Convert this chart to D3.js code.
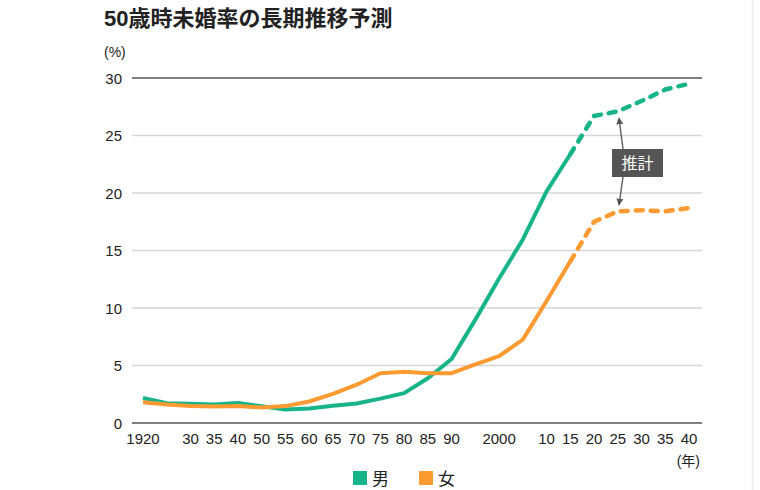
<!DOCTYPE html>
<html><head><meta charset="utf-8">
<script src="https://cdn.jsdelivr.net/npm/d3@7"></script>
<style>
html,body{margin:0;padding:0;background:#fff;}
text{font-family:"Liberation Sans","Noto Sans CJK JP",sans-serif;}
</style></head>
<body><svg id="c" width="760" height="490"></svg>
<script>
const years = [1920,1925,1930,1935,1940,1950,1955,1960,1965,1970,1975,1980,1985,1990,1995,2000,2005,2010,2015,2020,2025,2030,2035,2040];
const tickLabels = ["1920","","30","35","40","50","55","60","65","70","75","80","85","90","","2000","","10","15","20","25","30","35","40"];
const male = [2.17,1.72,1.68,1.60,1.75,1.45,1.18,1.26,1.50,1.70,2.12,2.60,3.89,5.57,8.99,12.57,15.96,20.14,23.37,26.7,27.1,28.0,29.0,29.5];
const female = [1.80,1.61,1.48,1.44,1.47,1.35,1.47,1.87,2.53,3.33,4.32,4.45,4.32,4.33,5.10,5.82,7.25,10.61,14.06,17.5,18.4,18.5,18.4,18.7];
const yTicks = [0,5,10,15,20,25,30];
const projStart = 2015;
const seriesNames = ["男","女"];
const colors = ["#17b48a","#fd9a31"];

const svg = d3.select("#c");
svg.append("line").attr("x1",752.5).attr("x2",752.5).attr("y1",0).attr("y2",490).attr("stroke","#ececec").attr("stroke-width",1.5);

svg.append("text").attr("x",104).attr("y",26).attr("font-size",22).attr("font-weight","bold").attr("fill","#222").text("50歳時未婚率の長期推移予測");

const x = d3.scalePoint().domain(years).range([143,689]);
const y = d3.scaleLinear().domain([0,30]).range([423,78]);
const left = 132, right = 702;

svg.append("text").attr("x",104).attr("y",57).attr("font-size",14).attr("fill","#222").text("(%)");

const g = svg.append("g");
yTicks.forEach(t=>{
  g.append("line").attr("x1",left).attr("x2",right).attr("y1",y(t)).attr("y2",y(t))
   .attr("stroke", (t===0||t===30)?"#555":"#d6d6d6").attr("stroke-width",(t===0||t===30)?1.6:1.3);
  g.append("text").attr("x",122).attr("y",y(t)+5.5).attr("text-anchor","end").attr("font-size",15).attr("fill","#222").text(t);
});

years.forEach((yr,i)=>{
  if(tickLabels[i]) svg.append("text").attr("x",x(yr)).attr("y",444).attr("text-anchor","middle").attr("font-size",15).attr("fill","#222").text(tickLabels[i]);
});
svg.append("text").attr("x",700).attr("y",466).attr("text-anchor","end").attr("font-size",14).attr("fill","#222").text("(年)");

const line = d3.line().x(d=>x(d[0])).y(d=>y(d[1]));
[male,female].forEach((vals,k)=>{
  const pts = years.map((yr,i)=>[yr,vals[i]]);
  const solid = pts.filter(p=>p[0]<=projStart);
  const dashed = pts.filter(p=>p[0]>=projStart);
  svg.append("path").attr("d",line(solid)).attr("fill","none").attr("stroke",colors[k]).attr("stroke-width",4).attr("stroke-linejoin","round");
  svg.append("path").attr("d",line(dashed)).attr("fill","none").attr("stroke",colors[k]).attr("stroke-width",4.5).attr("stroke-dasharray","7,8").attr("stroke-linecap","round").attr("stroke-linejoin","round");
});

const defs = svg.append("defs");
defs.append("marker").attr("id","ah").attr("viewBox","0 0 10 10").attr("refX",9).attr("refY",5)
  .attr("markerWidth",7).attr("markerHeight",7).attr("orient","auto").attr("markerUnits","userSpaceOnUse")
  .append("path").attr("d","M0,0 L10,5 L0,10 Z").attr("fill","#555");
svg.append("line").attr("x1",623).attr("y1",149).attr("x2",619).attr("y2",118).attr("stroke","#666").attr("stroke-width",1.5).attr("marker-end","url(#ah)");
svg.append("line").attr("x1",623).attr("y1",177).attr("x2",619).attr("y2",205).attr("stroke","#666").attr("stroke-width",1.5).attr("marker-end","url(#ah)");
svg.append("rect").attr("x",612).attr("y",149).attr("width",51).attr("height",28).attr("fill","#555");
svg.append("text").attr("x",637.5).attr("y",169).attr("text-anchor","middle").attr("font-size",16).attr("fill","#fff").text("推計");

const lx = [353,419];
seriesNames.forEach((n,k)=>{
  svg.append("rect").attr("x",lx[k]).attr("y",471).attr("width",14).attr("height",14).attr("fill",colors[k]);
  svg.append("text").attr("x",lx[k]+19).attr("y",484.5).attr("font-size",17).attr("fill","#222").text(n);
});
</script></body></html>
